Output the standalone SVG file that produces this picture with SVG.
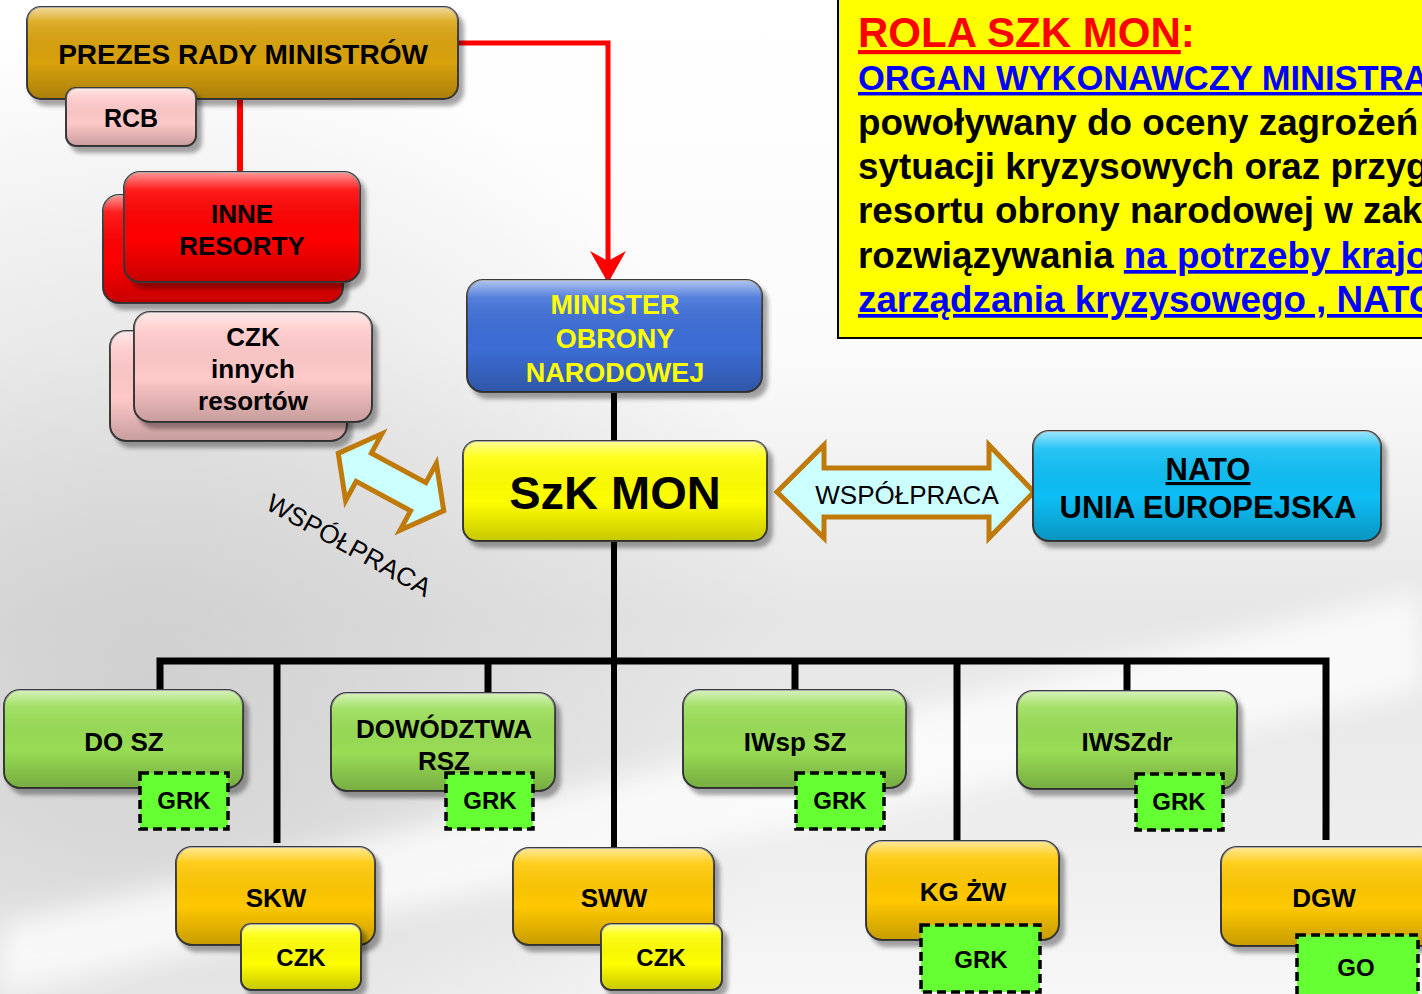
<svg xmlns="http://www.w3.org/2000/svg" width="1422" height="994" viewBox="0 0 1422 994">
<defs>
<linearGradient id="bg" x1="0" y1="0" x2="0" y2="1">
<stop offset="0" stop-color="#ffffff"/>
<stop offset="0.35" stop-color="#fbfbfb"/>
<stop offset="0.62" stop-color="#e6e6e6"/>
<stop offset="0.85" stop-color="#eeeeee"/>
<stop offset="1" stop-color="#f7f7f7"/>
</linearGradient>
<radialGradient id="dk" cx="150" cy="680" r="650" gradientUnits="userSpaceOnUse">
<stop offset="0" stop-color="#c8c8c8" stop-opacity="0.75"/>
<stop offset="1" stop-color="#c8c8c8" stop-opacity="0"/>
</radialGradient>
<filter id="blur" x="-10%" y="-50%" width="120%" height="200%"><feGaussianBlur stdDeviation="14"/></filter>
<filter id="sh" x="-10%" y="-10%" width="130%" height="140%">
<feDropShadow dx="5" dy="6" stdDeviation="2" flood-color="#000" flood-opacity="0.35"/>
</filter>
<linearGradient id="gl" x1="0" y1="0" x2="0" y2="1">
<stop offset="0" stop-color="#fff" stop-opacity="0.6"/>
<stop offset="0.16" stop-color="#fff" stop-opacity="0.12"/>
<stop offset="0.6" stop-color="#000" stop-opacity="0"/>
<stop offset="1" stop-color="#000" stop-opacity="0.22"/>
</linearGradient>
<marker id="ra" markerUnits="userSpaceOnUse" markerWidth="44" markerHeight="44" refX="32" refY="0" viewBox="0 -22 44 44" orient="auto">
<path d="M0,-18 L32,0 L0,18 L10,0 Z" fill="#FF0000"/>
</marker>
<style>
.b{stroke:#3a3a3a;stroke-width:2;filter:url(#sh)}
.g{fill:url(#gl);stroke:none}
.d{fill:#66FF33;stroke:#000;stroke-width:3.5;stroke-dasharray:9 5}
.t{font-family:"Liberation Sans",Arial,sans-serif;font-weight:bold;text-anchor:middle;fill:#000}
.r{font-family:"Liberation Sans",Arial,sans-serif;font-weight:normal;text-anchor:middle;fill:#000}
.gold{fill:#D9A20B}.pink{fill:#FFC9C9}.red{fill:#FF0000}.blue{fill:#3C6ED6}.yel{fill:#FFFF00}.cyan{fill:#0BBEF5}.grn{fill:#99DD55}.org{fill:#FFC800}
.blk{stroke:#000;fill:none}
.arr{fill:#CCFFFF;stroke:#BF7A0A;stroke-width:5;stroke-linejoin:miter}
.info{font-family:"Liberation Sans",Arial,sans-serif;font-weight:bold}
</style>
</defs>

<g id="background">
<rect x="0" y="0" width="1422" height="994" fill="url(#bg)"/>
<rect x="0" y="0" width="1422" height="994" fill="url(#dk)"/>
<path d="M0,925 Q700,760 1422,590 L1422,690 Q700,850 0,994 Z" fill="#ffffff" opacity="0.75" filter="url(#blur)"/>
</g>

<g id="connectors">
<path d="M458,43 H608 V283" stroke="#FF0000" stroke-width="5" fill="none" marker-end="url(#ra)"/>
<path d="M240,99 V172" stroke="#FF0000" stroke-width="6" fill="none"/>
<path class="blk" d="M614,392 V441" stroke-width="6"/>
<path class="blk" d="M614,541 V848" stroke-width="6"/>
<path class="blk" d="M160,690 V661 H1326 V840" stroke-width="7"/>
<path class="blk" d="M277,661 V843" stroke-width="7"/>
<path class="blk" d="M488,661 V693" stroke-width="7"/>
<path class="blk" d="M795,661 V690" stroke-width="7"/>
<path class="blk" d="M957,661 V842" stroke-width="7"/>
<path class="blk" d="M1127,661 V691" stroke-width="7"/>
<g id="arrow-nato">
<polygon class="arr" points="777,492 824,445 824,468 989,468 989,445 1034,492 989,538 989,517 824,517 824,538"/>
<text class="r" x="907" y="504" font-size="26">WSPÓŁPRACA</text>
</g>
<g id="arrow-czk">
<polygon class="arr" transform="translate(391,482) rotate(28.5)" points="-60,0 -31,-38 -31,-16 31,-16 31,-38 60,0 31,38 31,16 -31,16 -31,38"/>
<text class="r" font-size="26" transform="translate(349,545) rotate(29)" y="9">WSPÓŁPRACA</text>
</g>
</g>

<g id="info">
<rect x="838" y="-5" width="600" height="343" fill="#FFFF00" stroke="#000" stroke-width="2"/>
<text class="info" x="858" y="47" font-size="42" fill="#FF0000"><tspan text-decoration="underline">ROLA SZK MON</tspan>:</text>
<text class="info" x="858" y="90" font-size="34.5" fill="#0000FF" text-decoration="underline">ORGAN WYKONAWCZY MINISTRA</text>
<text class="info" x="858" y="135" font-size="36.8" fill="#000">powoływany do oceny zagrożeń</text>
<text class="info" x="858" y="179" font-size="36.8" fill="#000">sytuacji kryzysowych oraz przyg</text>
<text class="info" x="858" y="223" font-size="36.8" fill="#000">resortu obrony narodowej w zak</text>
<text class="info" x="858" y="268" font-size="36.8" fill="#000">rozwiązywania <tspan fill="#0000FF" text-decoration="underline">na potrzeby krajo</tspan></text>
<text class="info" x="858" y="312" font-size="36.8" fill="#0000FF" text-decoration="underline">zarządzania kryzysowego , NATO</text>
</g>

<g id="prezes">
<rect class="b gold" x="27" y="7" width="431" height="92" rx="14"/>
<rect class="g" x="27" y="7" width="431" height="92" rx="14"/>
<text class="t" x="243" y="64" font-size="28">PREZES RADY MINISTRÓW</text>
</g>
<g id="rcb">
<rect class="b pink" x="66" y="88" width="130" height="58" rx="10"/>
<rect class="g" x="66" y="88" width="130" height="58" rx="10"/>
<text class="t" x="131" y="127" font-size="25">RCB</text>
</g>
<g id="inne-resorty">
<rect class="b red" x="103" y="195" width="240" height="108" rx="16"/>
<rect class="g" x="103" y="195" width="240" height="108" rx="16"/>
<rect class="b red" x="124" y="172" width="236" height="110" rx="16"/>
<rect class="g" x="124" y="172" width="236" height="110" rx="16"/>
<text class="t" x="242" y="223" font-size="26">INNE</text>
<text class="t" x="242" y="255" font-size="26">RESORTY</text>
</g>
<g id="czk-innych">
<rect class="b pink" x="110" y="331" width="237" height="110" rx="16"/>
<rect class="g" x="110" y="331" width="237" height="110" rx="16"/>
<rect class="b pink" x="134" y="312" width="238" height="110" rx="16"/>
<rect class="g" x="134" y="312" width="238" height="110" rx="16"/>
<text class="t" x="253" y="346" font-size="26">CZK</text>
<text class="t" x="253" y="378" font-size="26">innych</text>
<text class="t" x="253" y="410" font-size="26">resortów</text>
</g>
<g id="minister">
<rect class="b blue" x="467" y="280" width="295" height="112" rx="16"/>
<rect class="g" x="467" y="280" width="295" height="112" rx="16"/>
<text class="t" x="615" y="314" font-size="27" style="fill:#FFFF00">MINISTER</text>
<text class="t" x="615" y="348" font-size="27" style="fill:#FFFF00">OBRONY</text>
<text class="t" x="615" y="382" font-size="27" style="fill:#FFFF00">NARODOWEJ</text>
</g>
<g id="szk-mon">
<rect class="b yel" x="463" y="441" width="304" height="100" rx="14"/>
<rect class="g" x="463" y="441" width="304" height="100" rx="14"/>
<text class="t" x="615" y="509" font-size="47">SzK MON</text>
</g>
<g id="nato">
<rect class="b cyan" x="1033" y="431" width="348" height="110" rx="16"/>
<rect class="g" x="1033" y="431" width="348" height="110" rx="16"/>
<text class="t" x="1208" y="480" font-size="31" text-decoration="underline">NATO</text>
<text class="t" x="1208" y="518" font-size="31">UNIA EUROPEJSKA</text>
</g>

<g id="do-sz">
<rect class="b grn" x="4" y="690" width="239" height="98" rx="16"/>
<rect class="g" x="4" y="690" width="239" height="98" rx="16"/>
<text class="t" x="124" y="751" font-size="26">DO SZ</text>
<rect class="d" x="140" y="773" width="88" height="56"/>
<text class="t" x="184" y="809" font-size="24">GRK</text>
</g>
<g id="dowodztwa-rsz">
<rect class="b grn" x="331" y="693" width="224" height="98" rx="16"/>
<rect class="g" x="331" y="693" width="224" height="98" rx="16"/>
<text class="t" x="444" y="738" font-size="26">DOWÓDZTWA</text>
<text class="t" x="444" y="770" font-size="26">RSZ</text>
<rect class="d" x="446" y="773" width="87" height="56"/>
<text class="t" x="490" y="809" font-size="24">GRK</text>
</g>
<g id="iwsp-sz">
<rect class="b grn" x="683" y="690" width="223" height="98" rx="16"/>
<rect class="g" x="683" y="690" width="223" height="98" rx="16"/>
<text class="t" x="795" y="751" font-size="26">IWsp SZ</text>
<rect class="d" x="796" y="773" width="88" height="56"/>
<text class="t" x="840" y="809" font-size="24">GRK</text>
</g>
<g id="iwszdr">
<rect class="b grn" x="1017" y="691" width="220" height="98" rx="16"/>
<rect class="g" x="1017" y="691" width="220" height="98" rx="16"/>
<text class="t" x="1127" y="751" font-size="26">IWSZdr</text>
<rect class="d" x="1136" y="774" width="87" height="56"/>
<text class="t" x="1179" y="810" font-size="24">GRK</text>
</g>
<g id="skw">
<rect class="b org" x="176" y="847" width="199" height="98" rx="16"/>
<rect class="g" x="176" y="847" width="199" height="98" rx="16"/>
<text class="t" x="276" y="907" font-size="26">SKW</text>
<rect class="b yel" x="241" y="924" width="120" height="66" rx="10"/>
<rect class="g" x="241" y="924" width="120" height="66" rx="10"/>
<text class="t" x="301" y="966" font-size="24">CZK</text>
</g>
<g id="sww">
<rect class="b org" x="513" y="848" width="201" height="97" rx="16"/>
<rect class="g" x="513" y="848" width="201" height="97" rx="16"/>
<text class="t" x="614" y="907" font-size="26">SWW</text>
<rect class="b yel" x="601" y="924" width="121" height="66" rx="10"/>
<rect class="g" x="601" y="924" width="121" height="66" rx="10"/>
<text class="t" x="661" y="966" font-size="24">CZK</text>
</g>
<g id="kg-zw">
<rect class="b org" x="866" y="841" width="193" height="99" rx="16"/>
<rect class="g" x="866" y="841" width="193" height="99" rx="16"/>
<text class="t" x="963" y="901" font-size="26">KG ŻW</text>
<rect class="d" x="921" y="925" width="119" height="67"/>
<text class="t" x="981" y="968" font-size="24">GRK</text>
</g>
<g id="dgw">
<rect class="b org" x="1221" y="847" width="215" height="99" rx="16"/>
<rect class="g" x="1221" y="847" width="215" height="99" rx="16"/>
<text class="t" x="1324" y="907" font-size="26">DGW</text>
<rect class="d" x="1297" y="935" width="121" height="70"/>
<text class="t" x="1356" y="976" font-size="24">GO</text>
</g>
</svg>
